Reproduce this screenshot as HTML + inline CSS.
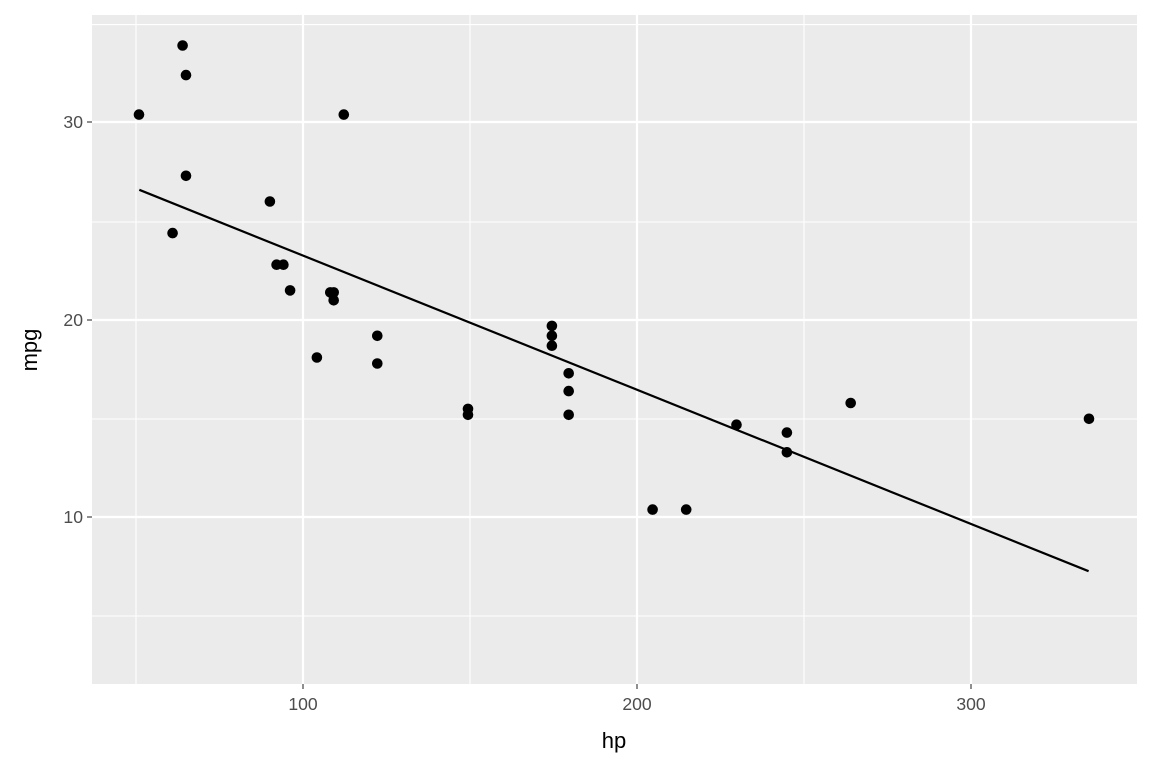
<!DOCTYPE html>
<html><head><meta charset="utf-8"><style>body{margin:0;background:#fff}svg{display:block}</style></head><body>
<svg width="1152" height="768" xmlns="http://www.w3.org/2000/svg" font-family="Liberation Sans, DejaVu Sans, sans-serif">
<rect x="92" y="15" width="1045" height="669" fill="#ebebeb"/>
<g stroke="#fff" stroke-width="1.1">
<line x1="92" x2="1137" y1="24.6" y2="24.6"/><line x1="92" x2="1137" y1="222" y2="222"/><line x1="92" x2="1137" y1="419" y2="419"/><line x1="92" x2="1137" y1="616" y2="616"/>
<line x1="136" x2="136" y1="15" y2="684"/><line x1="470" x2="470" y1="15" y2="684"/><line x1="804" x2="804" y1="15" y2="684"/>
</g>
<g stroke="#fff" stroke-width="2.2">
<line x1="92" x2="1137" y1="122" y2="122"/><line x1="92" x2="1137" y1="320" y2="320"/><line x1="92" x2="1137" y1="517" y2="517"/>
<line x1="303" x2="303" y1="15" y2="684"/><line x1="637" x2="637" y1="15" y2="684"/><line x1="971" x2="971" y1="15" y2="684"/>
</g>
<g stroke="#333" stroke-width="1.1">
<line x1="87" x2="92" y1="122" y2="122"/><line x1="87" x2="92" y1="320" y2="320"/><line x1="87" x2="92" y1="517" y2="517"/>
<line x1="303" x2="303" y1="684" y2="689"/><line x1="637" x2="637" y1="684" y2="689"/><line x1="971" x2="971" y1="684" y2="689"/>
</g>
<g fill="#4d4d4d" font-size="17.6">
<text x="83" y="128" text-anchor="end">30</text><text x="83" y="326" text-anchor="end">20</text><text x="83" y="523" text-anchor="end">10</text>
<text x="303" y="710" text-anchor="middle">100</text><text x="637" y="710" text-anchor="middle">200</text><text x="971" y="710" text-anchor="middle">300</text>
</g>
<text x="614" y="748" text-anchor="middle" font-size="22">hp</text>
<text transform="translate(37,350) rotate(-90)" text-anchor="middle" font-size="22">mpg</text>
<line x1="139.3" y1="189.8" x2="1088.6" y2="571.2" stroke="#000" stroke-width="2.2"/>
<g fill="#000">
<circle cx="333.7" cy="300.3" r="5.3"/>
<circle cx="276.6" cy="264.7" r="5.3"/>
<circle cx="333.7" cy="292.4" r="5.3"/>
<circle cx="551.9" cy="345.7" r="5.3"/>
<circle cx="316.9" cy="357.5" r="5.3"/>
<circle cx="786.9" cy="432.6" r="5.3"/>
<circle cx="172.6" cy="233.1" r="5.3"/>
<circle cx="283.4" cy="264.7" r="5.3"/>
<circle cx="377.3" cy="335.8" r="5.3"/>
<circle cx="377.3" cy="363.5" r="5.3"/>
<circle cx="568.7" cy="391.1" r="5.3"/>
<circle cx="568.7" cy="373.3" r="5.3"/>
<circle cx="568.7" cy="414.8" r="5.3"/>
<circle cx="652.6" cy="509.6" r="5.3"/>
<circle cx="686.2" cy="509.6" r="5.3"/>
<circle cx="736.5" cy="424.7" r="5.3"/>
<circle cx="186.0" cy="75.1" r="5.3"/>
<circle cx="139.0" cy="114.6" r="5.3"/>
<circle cx="182.6" cy="45.5" r="5.3"/>
<circle cx="290.1" cy="290.4" r="5.3"/>
<circle cx="468.0" cy="408.9" r="5.3"/>
<circle cx="468.0" cy="414.8" r="5.3"/>
<circle cx="786.9" cy="452.3" r="5.3"/>
<circle cx="551.9" cy="335.8" r="5.3"/>
<circle cx="186.0" cy="175.8" r="5.3"/>
<circle cx="269.9" cy="201.5" r="5.3"/>
<circle cx="343.8" cy="114.6" r="5.3"/>
<circle cx="850.7" cy="403.0" r="5.3"/>
<circle cx="551.9" cy="325.9" r="5.3"/>
<circle cx="1089.0" cy="418.8" r="5.3"/>
<circle cx="330.3" cy="292.4" r="5.3"/>
</g>
</svg>
</body></html>
